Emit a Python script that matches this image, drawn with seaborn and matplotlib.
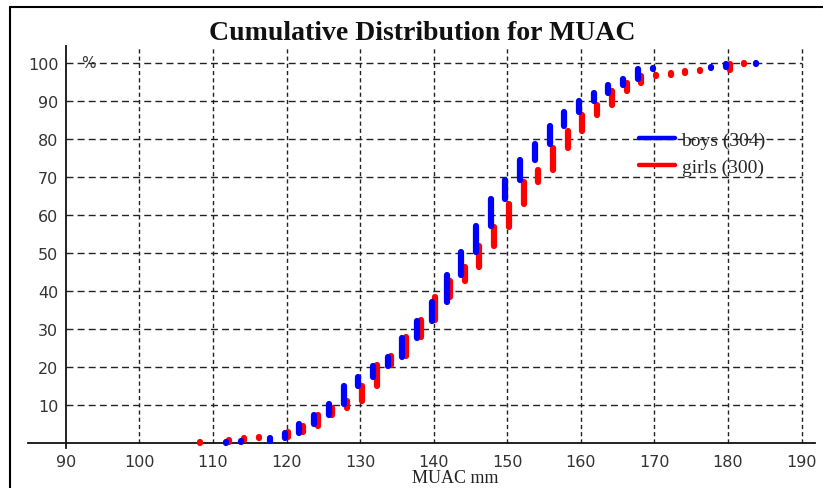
import pandas as pd
import matplotlib.pyplot as plt
import seaborn as sns
from matplotlib.lines import Line2D

# cumulative % reached at each MUAC value (segment runs from previous value up to this one)
boys_mm = [112, 114, 118, 120, 122, 124, 126, 128, 130, 132, 134, 136, 138, 140, 142, 144,
           146, 148, 150, 152, 154, 156, 158, 160, 162, 164, 166, 168, 170, 178, 180, 184]
boys_cum = [0.33, 0.66, 1.3, 2.6, 5.0, 7.3, 10.2, 15.1, 17.4, 20.3, 22.6, 27.5, 32.1, 37.2, 44.2, 50.3,
            57.2, 64.1, 69.1, 74.3, 78.6, 83.4, 87.0, 90.0, 92.0, 94.1, 95.8, 98.4, 98.7, 99.0, 99.7, 100]
girls_mm = [108, 112, 114, 116, 120, 122, 124, 126, 128, 130, 132, 134, 136, 138, 140, 142, 144, 146,
            148, 150, 152, 154, 156, 158, 160, 162, 164, 166, 168, 170, 172, 174, 176, 180, 182]
girls_cum = [0.33, 0.67, 1.33, 1.67, 3.0, 4.6, 7.4, 9.3, 11.0, 15.1, 20.6, 23.0, 28.0, 32.3, 38.5, 42.5,
             46.4, 51.7, 56.9, 62.9, 68.6, 71.9, 77.7, 82.0, 86.3, 89.0, 92.6, 94.8, 96.5, 96.8,
             97.3, 97.8, 98.2, 99.7, 100]
x_ticks = list(range(90, 191, 10))
y_ticks = list(range(10, 101, 10))
labels = {'boys': 'boys (304)', 'girls': 'girls (300)'}
colors = {'boys': '#0000ff', 'girls': '#ff0000'}
shift = {'boys': -0.25, 'girls': 0.22}


def segments(sex, mm, cum):
    rows = []
    prev = 0.0
    for i, (m, c) in enumerate(zip(mm, cum)):
        rows.append({'sex': sex, 'seg': i, 'x': m + shift[sex], 'pct': prev})
        rows.append({'sex': sex, 'seg': i, 'x': m + shift[sex], 'pct': c})
        prev = c
    return rows


df = pd.DataFrame(segments('girls', girls_mm, girls_cum) + segments('boys', boys_mm, boys_cum))

sns.set_theme(style='white')
plt.rcParams['font.family'] = ['DejaVu Sans']

fig = plt.figure(figsize=(8.23, 4.89), dpi=100)
ax = fig.add_axes([0.034, 0.0826, 0.956, 0.822])
ax.set_xlim(84.84, 191.8)
ax.set_ylim(-1.2, 104.5)

# grid drawn by hand so it stays between the axis and 190
ax.hlines(y_ticks, 90, 190, colors='#222222', linewidth=1.0, linestyles=(0, (5, 3)), zorder=1)
ax.vlines(x_ticks[1:], 0, 104.5, colors='#222222', linewidth=1.0, linestyles=(0, (3, 2.2)), zorder=1)

for sex in ['girls', 'boys']:
    sns.lineplot(data=df[df['sex'] == sex], x='x', y='pct', units='seg', estimator=None, sort=False,
                 color=colors[sex], linewidth=4.5, solid_capstyle='round', legend=False, ax=ax, zorder=3)

for s in ['top', 'right']:
    ax.spines[s].set_visible(False)
ax.spines['left'].set_position(('data', 90))
ax.spines['bottom'].set_position(('data', 0))
for s in ['left', 'bottom']:
    ax.spines[s].set_color('#111111')
    ax.spines[s].set_linewidth(1.3)

ax.set_xticks(x_ticks)
ax.set_yticks(y_ticks)
ax.tick_params(axis='both', direction='inout', length=8, width=1.3, color='#111111',
               labelsize=11.5, labelcolor='#333333')
ax.tick_params(axis='x', pad=4)
ax.tick_params(axis='y', pad=1.5)
ax.set_xlabel('')
ax.set_ylabel('')
ax.text(92.0, 100, '%', ha='left', va='center', fontsize=11, color='#333333')

handles = [Line2D([], [], color=colors[k], linewidth=3.2) for k in ['boys', 'girls']]
ax.legend(handles, [labels['boys'], labels['girls']], loc='upper left', bbox_to_anchor=(0.776, 0.788),
          frameon=False, borderpad=0, borderaxespad=0, handlelength=1.86, handletextpad=0.35,
          labelspacing=0.5, prop={'family': 'Liberation Serif', 'size': 14})

fig.text(0.513, 1 - 33 / 489, 'Cumulative Distribution for MUAC', ha='center', va='center',
         fontsize=20, fontweight='bold', family='Liberation Serif', color='#111111')
fig.text(455 / 823, 1 - 479 / 489, 'MUAC mm', ha='center', va='center',
         fontsize=13, family='Liberation Serif', color='#222222')

# outer frame of the original image
fig.add_artist(Line2D([10 / 823, 10 / 823], [0, 1 - 8 / 489], transform=fig.transFigure,
                      color='black', linewidth=1.5))
fig.add_artist(Line2D([10 / 823, 1], [1 - 8 / 489, 1 - 8 / 489], transform=fig.transFigure,
                      color='black', linewidth=1.5))

fig.savefig('out.png', dpi=100)
